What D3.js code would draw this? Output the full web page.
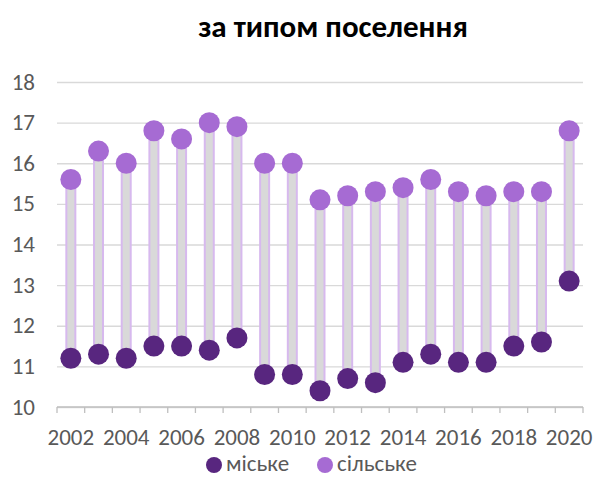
<!DOCTYPE html>
<html>
<head>
<meta charset="utf-8">
<script src="https://cdn.jsdelivr.net/npm/d3@7"></script>
<style>
  body { margin: 0; background: #fff; }
  text { font-family: Carlito, Calibri, Lato, sans-serif; }
</style>
</head>
<body>
<script>
// дані
var years = [2002, 2003, 2004, 2005, 2006, 2007, 2008, 2009, 2010, 2011,
             2012, 2013, 2014, 2015, 2016, 2017, 2018, 2019, 2020];
var urban = [11.2, 11.3, 11.2, 11.5, 11.5, 11.4, 11.7, 10.8, 10.8, 10.4,
             10.7, 10.6, 11.1, 11.3, 11.1, 11.1, 11.5, 11.6, 13.1];
var rural = [15.6, 16.3, 16.0, 16.8, 16.6, 17.0, 16.9, 16.0, 16.0, 15.1,
             15.2, 15.3, 15.4, 15.6, 15.3, 15.2, 15.3, 15.3, 16.8];
var yTicks = [10, 11, 12, 13, 14, 15, 16, 17, 18];
var seriesNames = ['міське', 'сільське'];
var colors = ['#58267f', '#a66bd3'];

var W = 596, H = 477;
var plotL = 57, plotR = 583, plotT = 82, plotB = 407;

var svg = d3.select('body').append('svg')
  .attr('width', W)
  .attr('height', H);

var x = d3.scaleBand().domain(years).range([plotL, plotR]).padding(0);
var y = d3.scaleLinear().domain([10, 18]).range([plotB, plotT]);

svg.append('text')
  .attr('x', 333)
  .attr('y', 37)
  .attr('text-anchor', 'middle')
  .style('font-size', '31px')
  .style('font-weight', 'bold')
  .attr('fill', '#000')
  .text('за типом поселення');

// сітка
svg.append('g')
  .attr('transform', 'translate(' + plotL + ',0)')
  .call(d3.axisLeft(y).tickValues(yTicks).tickSize(-(plotR - plotL)).tickFormat(''))
  .call(function (g) {
    g.select('.domain').remove();
    g.selectAll('line').attr('stroke', '#d9d9d9').attr('stroke-width', 1.3);
  });

svg.append('g')
  .selectAll('text')
  .data(yTicks)
  .enter()
  .append('text')
  .attr('x', 35)
  .attr('y', function (d) { return y(d) + 7.5; })
  .attr('text-anchor', 'end')
  .attr('fill', '#595959')
  .style('font-size', '23px')
  .text(function (d) { return d; });

// вісь x
var ax = svg.append('g').attr('transform', 'translate(0,' + plotB + ')');
ax.append('line')
  .attr('x1', plotL).attr('x2', plotR)
  .attr('stroke', '#bfbfbf').attr('stroke-width', 1.3);
ax.selectAll('.tk')
  .data(d3.range(years.length + 1))
  .enter()
  .append('line')
  .attr('x1', function (i) { return plotL + i * x.step(); })
  .attr('x2', function (i) { return plotL + i * x.step(); })
  .attr('y1', 0).attr('y2', 6)
  .attr('stroke', '#bfbfbf').attr('stroke-width', 1.3);
ax.selectAll('.lbl')
  .data(years.filter(function (d, i) { return i % 2 === 0; }))
  .enter()
  .append('text')
  .attr('x', function (d) { return x(d) + x.bandwidth() / 2; })
  .attr('y', 38)
  .attr('text-anchor', 'middle')
  .attr('fill', '#595959')
  .style('font-size', '23px')
  .text(function (d) { return d; });

// смуги
svg.append('g')
  .selectAll('rect')
  .data(years)
  .enter()
  .append('rect')
  .attr('x', function (d) { return x(d) + x.bandwidth() / 2 - 4.5; })
  .attr('y', function (d, i) { return y(rural[i]); })
  .attr('width', 9)
  .attr('height', function (d, i) { return y(urban[i]) - y(rural[i]); })
  .attr('fill', '#d9d9d9')
  .attr('stroke', '#d7b9ee')
  .attr('stroke-width', 2);

[urban, rural].forEach(function (vals, s) {
  svg.append('g')
    .selectAll('circle')
    .data(years)
    .enter()
    .append('circle')
    .attr('cx', function (d) { return x(d) + x.bandwidth() / 2; })
    .attr('cy', function (d, i) { return y(vals[i]); })
    .attr('r', 10.5)
    .attr('fill', colors[s]);
});

// легенда
var leg = svg.append('g');
var legX = [214, 325];
seriesNames.forEach(function (n, i) {
  leg.append('circle')
    .attr('cx', legX[i]).attr('cy', 465).attr('r', 8)
    .attr('fill', colors[i]);
  leg.append('text')
    .attr('x', legX[i] + 12).attr('y', 471)
    .attr('fill', '#595959')
    .style('font-size', '23px')
    .text(n);
});
</script>
</body>
</html>
